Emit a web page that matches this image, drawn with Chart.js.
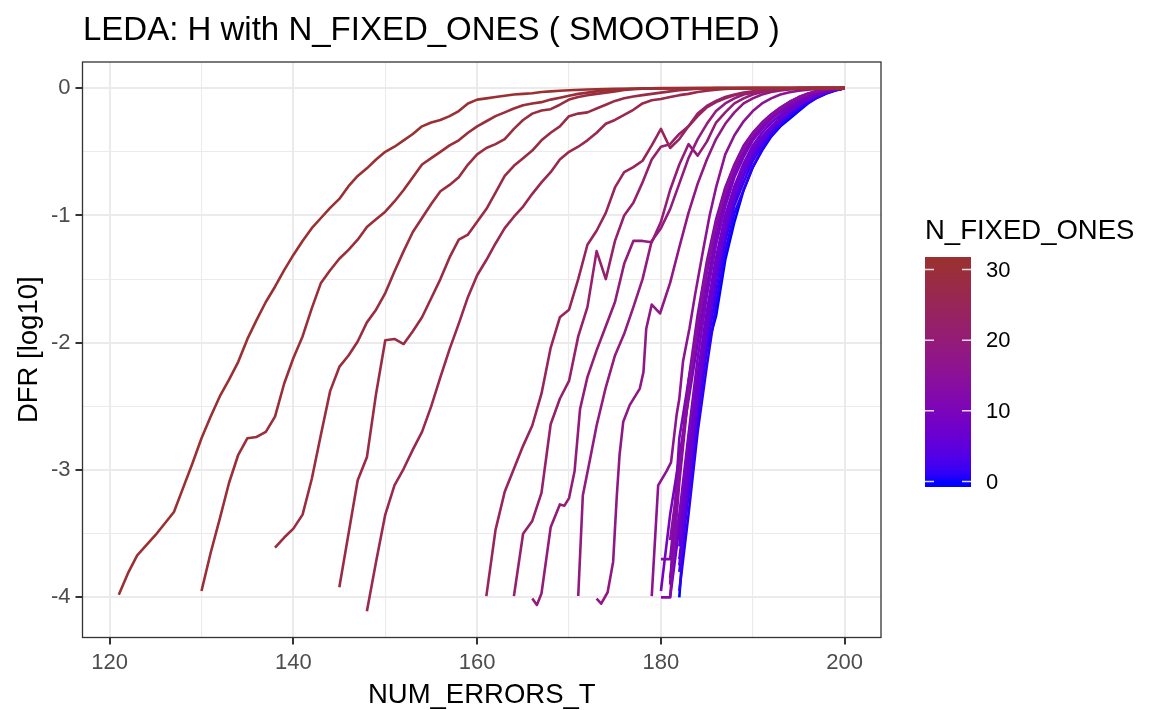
<!DOCTYPE html>
<html>
<head>
<meta charset="utf-8">
<script src="https://cdn.jsdelivr.net/npm/chart.js@4.4.1/dist/chart.umd.min.js"></script>
<style>
html,body{margin:0;padding:0;background:#ffffff;}
canvas{display:block;}
</style>
</head>
<body>
<canvas id="c" width="1151" height="710"></canvas>
<script>
// ---------- axis ticks / labels ----------
const xTicks = [120,130,140,150,160,170,180,190,200];
const xLabels = ['120','','140','','160','','180','','200'];
const yTicks = [-4,-3.5,-3,-2.5,-2,-1.5,-1,-0.5,0];
const yLabels = ['-4','','-3','','-2','','-1','','0'];
const legendTicks = [0,10,20,30];
const nRange = [0,31];

// ---------- early-starting series : [NUM_ERRORS_T, DFR] ----------
const n31 = [[121,-3.98],[122,-3.81],[123,-3.67],[124,-3.59],[125,-3.51],[126,-3.42],[127,-3.33],[128,-3.14],[129,-2.95],[130,-2.75],[131,-2.58],[132,-2.42],[133,-2.29],[134,-2.15],[135,-1.97],[136,-1.82],[137,-1.68],[138,-1.56],[139,-1.43],[140,-1.31],[141,-1.2],[142,-1.1],[143,-1.02],[144,-0.94],[145,-0.87],[146,-0.77],[147,-0.69],[148,-0.63],[149,-0.56],[150,-0.5],[151,-0.46],[152,-0.41],[153,-0.36],[154,-0.3],[155,-0.27],[156,-0.25],[157,-0.22],[158,-0.18],[159,-0.12],[160,-0.09],[161,-0.08],[162,-0.07],[163,-0.06],[164,-0.05],[165,-0.045],[166,-0.04],[167,-0.03],[168,-0.025],[169,-0.02],[170,-0.016],[172,-0.01],[175,-0.005],[180,-0.002],[190,0],[200,0]];
const n30 = [[130,-3.95],[131,-3.65],[132,-3.38],[133,-3.1],[134,-2.88],[135,-2.75],[136,-2.74],[137,-2.7],[138,-2.58],[139,-2.32],[140,-2.12],[141,-1.95],[142,-1.73],[143,-1.53],[144,-1.43],[145,-1.34],[146,-1.27],[147,-1.19],[148,-1.09],[149,-1.03],[150,-0.97],[151,-0.89],[152,-0.8],[153,-0.7],[154,-0.6],[155,-0.55],[156,-0.5],[157,-0.45],[158,-0.41],[159,-0.35],[160,-0.3],[161,-0.26],[162,-0.22],[163,-0.19],[164,-0.16],[165,-0.135],[166,-0.12],[167,-0.11],[168,-0.09],[169,-0.075],[170,-0.06],[171,-0.045],[172,-0.035],[173,-0.025],[174,-0.018],[175,-0.012],[176,-0.008],[178,-0.003],[185,0],[200,0]];
const n29 = [[138,-3.61],[139,-3.53],[140,-3.46],[141,-3.35],[142,-3.07],[143,-2.72],[144,-2.38],[145,-2.19],[146,-2.1],[147,-1.99],[148,-1.84],[149,-1.74],[150,-1.61],[151,-1.44],[152,-1.28],[153,-1.13],[154,-1.02],[155,-0.91],[156,-0.81],[157,-0.76],[158,-0.7],[159,-0.6],[160,-0.52],[161,-0.47],[162,-0.44],[163,-0.4],[164,-0.32],[165,-0.25],[166,-0.2],[167,-0.175],[168,-0.165],[169,-0.13],[170,-0.09],[171,-0.07],[172,-0.055],[173,-0.045],[174,-0.035],[175,-0.025],[176,-0.015],[177,-0.008],[178,-0.004],[180,0],[200,0]];
const n28 = [[145,-3.92],[146,-3.5],[147,-3.08],[148,-2.9],[149,-2.4],[150,-1.98],[151,-1.97],[152,-2.01],[153,-1.91],[154,-1.8],[155,-1.65],[156,-1.5],[157,-1.33],[158,-1.19],[159,-1.15],[160,-1.05],[161,-0.95],[162,-0.82],[163,-0.69],[164,-0.61],[165,-0.55],[166,-0.49],[167,-0.41],[168,-0.35],[169,-0.3],[170,-0.22],[171,-0.2],[172,-0.19],[173,-0.16],[174,-0.13],[175,-0.1],[176,-0.08],[177,-0.065],[178,-0.055],[179,-0.045],[180,-0.035],[181,-0.025],[182,-0.017],[183,-0.01],[184,-0.005],[186,0],[200,0]];
const n27 = [[148,-4.11],[149,-3.72],[150,-3.35],[151,-3.12],[152,-2.99],[153,-2.84],[154,-2.7],[155,-2.5],[156,-2.27],[157,-2.05],[158,-1.85],[159,-1.64],[160,-1.47],[161,-1.35],[162,-1.22],[163,-1.1],[164,-1.01],[165,-0.93],[166,-0.83],[167,-0.74],[168,-0.66],[169,-0.56],[170,-0.5],[171,-0.46],[172,-0.41],[173,-0.35],[174,-0.28],[175,-0.25],[176,-0.21],[177,-0.17],[178,-0.12],[179,-0.095],[180,-0.085],[181,-0.07],[182,-0.055],[183,-0.045],[184,-0.03],[185,-0.02],[186,-0.012],[187,-0.006],[188,-0.002],[190,0],[200,0]];
const n24 = [[161,-3.99],[162,-3.47],[163,-3.17],[164,-2.99],[165,-2.81],[166,-2.65],[167,-2.4],[168,-2.04],[169,-1.8],[170,-1.74],[171,-1.5],[172,-1.23],[173,-1.12],[174,-0.98],[175,-0.78],[176,-0.66],[177,-0.62],[178,-0.57],[179,-0.45],[180,-0.32],[181,-0.47],[182,-0.4],[183,-0.3],[184,-0.22],[185,-0.15],[186,-0.11],[187,-0.08],[188,-0.055],[189,-0.04],[190,-0.03],[191,-0.02],[192,-0.013],[193,-0.008],[194,-0.005],[196,0],[200,0]];
const n22 = [[164,-3.99],[165,-3.5],[166,-3.4],[167,-3.18],[168,-2.64],[169,-2.44],[170,-2.3],[171,-1.95],[172,-1.72],[173,-1.28],[174,-1.5],[175,-1.2],[176,-1.0],[177,-0.9],[178,-0.74],[179,-0.56],[180,-0.46],[181,-0.44],[182,-0.36],[183,-0.3],[184,-0.2],[185,-0.14],[186,-0.1],[187,-0.07],[188,-0.05],[189,-0.035],[190,-0.025],[191,-0.016],[192,-0.01],[193,-0.006],[195,0],[200,0]];
const n20 = [[166,-4.01],[166.5,-4.06],[167,-3.97],[168,-3.45],[169,-3.27],[169.5,-3.28],[170,-3.22],[170.6,-3.01],[171.2,-2.52],[172,-2.27],[173,-2.06],[174,-1.87],[175,-1.68],[176,-1.38],[177,-1.2],[178,-1.2],[179,-1.21],[180,-1.05],[181,-0.8],[182,-0.6],[183,-0.44],[184,-0.53],[185,-0.42],[186,-0.27],[187,-0.19],[188,-0.12],[189,-0.08],[190,-0.05],[191,-0.03],[192,-0.018],[193,-0.01],[194,-0.005],[196,0],[200,0]];
const n19 = [[171,-3.99],[171.5,-3.2],[172.3,-2.91],[173,-2.65],[174,-2.35],[175,-2.1],[176,-1.93],[177,-1.72],[178,-1.5],[179,-1.2],[180,-1.1],[181,-0.95],[182,-0.75],[183,-0.55],[184,-0.4],[185,-0.28],[186,-0.18],[187,-0.12],[188,-0.08],[189,-0.05],[190,-0.035],[191,-0.02],[192,-0.012],[193,-0.006],[195,0],[200,0]];
const n18 = [[173,-4.01],[173.5,-4.05],[174.2,-3.96],[174.8,-3.72],[175.2,-3.2],[175.5,-2.88],[175.9,-2.62],[176.6,-2.49],[177.7,-2.36],[178.1,-2.23],[178.4,-1.89],[179,-1.7],[179.9,-1.77],[181,-1.53],[182,-1.25],[183,-0.98],[184,-0.75],[185,-0.56],[186,-0.4],[187,-0.28],[188,-0.19],[189,-0.12],[190,-0.08],[191,-0.05],[192,-0.03],[193,-0.018],[194,-0.01],[195,-0.005],[197,0],[200,0]];
const n16 = [[179,-3.99],[179.7,-3.12],[180.6,-3.01],[181.1,-2.94],[181.7,-2.57],[182,-2.44],[182.4,-2.15],[182.8,-2.0],[183.1,-1.89],[183.7,-1.63],[184.6,-1.27],[185.3,-1.0],[186,-0.78],[187,-0.52],[188,-0.37],[189,-0.26],[190,-0.18],[191,-0.12],[192,-0.08],[193,-0.05],[194,-0.032],[195,-0.02],[196,-0.012],[197,-0.007],[198,-0.003],[200,0]];
const pairSeries = [n16,n18,n19,n20,n22,n24,n27,n28,n29,n30,n31];
const pairN      = [16, 18, 19, 20, 22, 24, 27, 28, 29, 30, 31];

// ---------- late-starting series on a shared NUM_ERRORS_T grid ----------
const xGrid = [180,181,182,183,184,185,186,187,188,189,190,191,192,193,194,195,196,197,198,199,200];
const n0  = [null,null,-4.0,-3.0,-2.45,-2.05,-1.79,-1.35,-1.05,-0.8,-0.62,-0.49,-0.38,-0.3,-0.24,-0.18,-0.12,-0.075,-0.042,-0.018,0];
const n1  = [null,null,-3.95,-3.35,-2.7,-2.18,-1.7,-1.28,-0.98,-0.8,-0.62,-0.48,-0.37,-0.29,-0.22,-0.165,-0.115,-0.072,-0.04,-0.017,0];
const n2  = [null,null,-3.8,-3.2,-2.6,-2.05,-1.6,-1.2,-0.92,-0.74,-0.57,-0.45,-0.35,-0.27,-0.2,-0.15,-0.1,-0.065,-0.036,-0.015,0];
const n3  = [null,null,-3.7,-3.12,-2.5,-1.95,-1.5,-1.15,-0.88,-0.69,-0.54,-0.43,-0.33,-0.26,-0.19,-0.14,-0.096,-0.06,-0.033,-0.013,0];
const n4  = [null,null,-3.6,-3.05,-2.42,-1.88,-1.43,-1.08,-0.83,-0.64,-0.5,-0.4,-0.31,-0.24,-0.18,-0.13,-0.09,-0.055,-0.03,-0.012,0];
const n5  = [null,null,-3.75,-3.1,-2.48,-1.92,-1.47,-1.12,-0.86,-0.66,-0.52,-0.41,-0.32,-0.245,-0.185,-0.135,-0.092,-0.057,-0.031,-0.012,0];
const n6  = [null,null,-3.5,-2.95,-2.35,-1.82,-1.38,-1.05,-0.8,-0.62,-0.48,-0.38,-0.3,-0.23,-0.175,-0.128,-0.088,-0.054,-0.03,-0.012,0];
const n7  = [null,null,-3.55,-2.98,-2.4,-1.86,-1.41,-1.07,-0.82,-0.63,-0.49,-0.39,-0.305,-0.235,-0.178,-0.13,-0.089,-0.055,-0.03,-0.012,0];
const n8  = [null,-4.0,-3.45,-2.85,-2.25,-1.75,-1.33,-1.0,-0.77,-0.59,-0.45,-0.35,-0.27,-0.21,-0.155,-0.11,-0.07,-0.042,-0.022,-0.009,0];
const n9  = [-3.95,-3.35,-2.9,-2.45,-2.0,-1.55,-1.17,-0.89,-0.68,-0.515,-0.39,-0.305,-0.235,-0.178,-0.13,-0.088,-0.055,-0.031,-0.015,-0.005,0];
const n10 = [null,-3.85,-3.35,-2.72,-2.12,-1.63,-1.23,-0.93,-0.7,-0.54,-0.41,-0.32,-0.245,-0.188,-0.138,-0.094,-0.06,-0.035,-0.018,-0.007,0];
const n11 = [null,-3.9,-2.75,-2.3,-1.9,-1.45,-1.1,-0.84,-0.64,-0.48,-0.37,-0.29,-0.22,-0.165,-0.118,-0.078,-0.048,-0.027,-0.013,-0.004,0];
const n12 = [-3.7,-3.7,-3.0,-2.3,-1.78,-1.36,-1.03,-0.78,-0.6,-0.45,-0.35,-0.27,-0.205,-0.152,-0.107,-0.07,-0.042,-0.022,-0.009,-0.003,0];
const n13 = [-4.0,-4.0,-3.1,-2.4,-1.85,-1.4,-1.06,-0.8,-0.61,-0.46,-0.355,-0.275,-0.21,-0.155,-0.11,-0.072,-0.043,-0.023,-0.01,-0.003,0];
const n14 = [null,-3.55,-3.0,-2.38,-1.84,-1.4,-1.06,-0.81,-0.62,-0.47,-0.36,-0.28,-0.215,-0.16,-0.114,-0.075,-0.046,-0.025,-0.011,-0.003,0];
const gridSeries = [n0,n1,n2,n3,n4,n5,n6,n7,n8,n9,n10,n11,n12,n13,n14];
const gridN      = [0,1,2,3,4,5,6,7,8,9,10,11,12,13,14];

// ---------- colour scale (Lab interpolation, blue -> brown) ----------
const lowColour = [0,0,255];
const highColour = [154,48,50];
function s2l(c){c/=255;return c<=0.04045?c/12.92:Math.pow((c+0.055)/1.055,2.4);}
function l2s(c){const v=c<=0.0031308?12.92*c:1.055*Math.pow(c,1/2.4)-0.055;return Math.round(Math.max(0,Math.min(1,v))*255);}
function rgb2lab(rgb){
  const R=s2l(rgb[0]),G=s2l(rgb[1]),B=s2l(rgb[2]);
  const X=(0.4124564*R+0.3575761*G+0.1804375*B)/0.95047;
  const Y=(0.2126729*R+0.7151522*G+0.0721750*B);
  const Z=(0.0193339*R+0.1191920*G+0.9503041*B)/1.08883;
  const f=t=>t>216/24389?Math.cbrt(t):(24389/27*t+16)/116;
  const fx=f(X),fy=f(Y),fz=f(Z);
  return [116*fy-16,500*(fx-fy),200*(fy-fz)];
}
function lab2rgb(lab){
  const fy=(lab[0]+16)/116,fx=fy+lab[1]/500,fz=fy-lab[2]/200;
  const inv=t=>{const t3=t*t*t;return t3>216/24389?t3:(116*t-16)/(24389/27);};
  const X=inv(fx)*0.95047,Y=inv(fy),Z=inv(fz)*1.08883;
  const R=3.2404542*X-1.5371385*Y-0.4985314*Z;
  const G=-0.9692660*X+1.8760108*Y+0.0415560*Z;
  const B=0.0556434*X-0.2040259*Y+1.0572252*Z;
  return [l2s(R),l2s(G),l2s(B)];
}
const labLow=rgb2lab(lowColour), labHigh=rgb2lab(highColour);
function colourFor(v){
  let t=(v-nRange[0])/(nRange[1]-nRange[0]); t=Math.max(0,Math.min(1,t));
  const lab=[0,1,2].map(i=>labLow[i]+(labHigh[i]-labLow[i])*t);
  const c=lab2rgb(lab); return 'rgb('+c[0]+','+c[1]+','+c[2]+')';
}

// ---------- datasets (highest N drawn on top) ----------
const datasets = [];
for (let k = pairSeries.length-1; k >= 0; k--) {
  datasets.push({label:'N'+pairN[k], data: pairSeries[k].map(p=>({x:p[0],y:p[1]})), borderColor: colourFor(pairN[k])});
}
for (let k = gridSeries.length-1; k >= 0; k--) {
  const pts = [];
  gridSeries[k].forEach((y,i)=>{ if (y !== null) pts.push({x:xGrid[i], y:y}); });
  datasets.push({label:'N'+gridN[k], data: pts, borderColor: colourFor(gridN[k])});
}

const FONT = "'Liberation Sans', Arial, Helvetica, sans-serif";
const PANEL = {left:82.5, right:881, top:62, bottom:637.5};

const decorPlugin = {
  id:'decor',
  afterDatasetsDraw(chart){
    const ctx = chart.ctx, a = chart.chartArea;
    ctx.save();
    ctx.strokeStyle = '#333333'; ctx.lineWidth = 1.3;
    ctx.strokeRect(a.left, a.top, a.right-a.left, a.bottom-a.top);
    ctx.restore();
  },
  afterDraw(chart){
    const ctx = chart.ctx, a = chart.chartArea;
    ctx.save();
    ctx.fillStyle = '#000000';
    ctx.font = '33px ' + FONT;
    ctx.textAlign = 'left'; ctx.textBaseline = 'alphabetic';
    ctx.fillText('LEDA: H with N_FIXED_ONES ( SMOOTHED )', 83, 40);
    ctx.font = '27.5px ' + FONT;
    ctx.textAlign = 'center';
    ctx.fillText('NUM_ERRORS_T', (a.left+a.right)/2, 703);
    ctx.save();
    ctx.translate(37, (a.top+a.bottom)/2);
    ctx.rotate(-Math.PI/2);
    ctx.fillText('DFR [log10]', 0, 0);
    ctx.restore();
    ctx.textAlign = 'left';
    ctx.fillText('N_FIXED_ONES', 925, 238.5);
    const barL = 925, barR = 971, barT = 257, barB = 487;
    const v0y = 481.5, v30y = 269.5;
    const pxPerUnit = (v0y - v30y) / 30;
    for (let y = barT; y < barB; y++) {
      const v = (v0y - (y + 0.5)) / pxPerUnit;
      ctx.fillStyle = colourFor(v);
      ctx.fillRect(barL, y, barR-barL, 1);
    }
    ctx.strokeStyle = 'rgba(255,255,255,0.85)'; ctx.lineWidth = 1.5;
    ctx.fillStyle = '#000000';
    ctx.font = '22px ' + FONT;
    ctx.textBaseline = 'middle';
    legendTicks.forEach(v=>{
      const y = v0y - v*pxPerUnit;
      ctx.beginPath();
      ctx.moveTo(barL, y); ctx.lineTo(barL+9, y);
      ctx.moveTo(barR-9, y); ctx.lineTo(barR, y);
      ctx.stroke();
      ctx.fillText(String(v), 986, y+1);
    });
    ctx.restore();
  }
};

new Chart(document.getElementById('c').getContext('2d'), {
  type:'line',
  data:{datasets},
  options:{
    responsive:false, animation:false, devicePixelRatio:1,
    layout:{padding:{top:PANEL.top, right:1151-PANEL.right, bottom:0, left:0}},
    plugins:{legend:{display:false}, tooltip:{enabled:false}, title:{display:false}},
    elements:{point:{radius:0, hoverRadius:0}, line:{tension:0, borderWidth:2.6, fill:false, borderCapStyle:'butt', borderJoinStyle:'round'}},
    scales:{
      x:{
        type:'linear', min:117.05, max:203.95,
        afterBuildTicks:s=>{ s.ticks = xTicks.map(v=>({value:v})); },
        afterFit:s=>{ s.height = 710 - PANEL.bottom; },
        ticks:{callback:(v,i)=>xLabels[i], color:'#4D4D4D', font:{family:FONT, size:22}, padding:5, maxRotation:0, autoSkip:false},
        grid:{color:'#EBEBEB', lineWidth:c=>(xLabels[c.index]?2:1.1), tickColor:c=>(xLabels[c.index]?'#333333':'rgba(0,0,0,0)'), tickLength:7, tickWidth:2, drawTicks:true},
        border:{display:false}
      },
      y:{
        type:'linear', min:-4.3155, max:0.2055,
        afterBuildTicks:s=>{ s.ticks = yTicks.map(v=>({value:v})); },
        afterFit:s=>{ s.width = PANEL.left; },
        ticks:{callback:(v,i)=>yLabels[i], color:'#4D4D4D', font:{family:FONT, size:22}, padding:5, autoSkip:false},
        grid:{color:'#EBEBEB', lineWidth:c=>(yLabels[c.index]?2:1.1), tickColor:c=>(yLabels[c.index]?'#333333':'rgba(0,0,0,0)'), tickLength:7, tickWidth:2, drawTicks:true},
        border:{display:false}
      }
    }
  },
  plugins:[decorPlugin]
});
</script>
</body>
</html>
